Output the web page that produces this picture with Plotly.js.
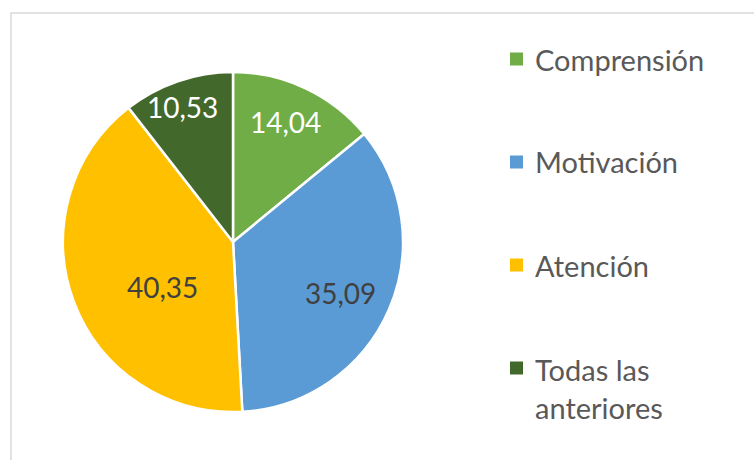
<!DOCTYPE html>
<html>
<head>
<meta charset="utf-8">
<script src="https://cdn.plot.ly/plotly-3.0.1.min.js"></script>
<style>
  html, body { margin: 0; padding: 0; background: #ffffff; }
  #chart { width: 754px; height: 460px; }
</style>
</head>
<body>
<div id="chart"></div>
<script>
// ---- data ----
const categories = ["Comprensión", "Motivación", "Atención", "Todas las anteriores"];
const legendLabels = ["Comprensión", "Motivación", "Atención", "Todas las<br>anteriores"];
const values = [14.04, 35.09, 40.35, 10.53];
const sliceColors = ["#70AD47", "#5B9BD5", "#FFC000", "#43682B"];
const labelColors = ["#FFFFFF", "#404040", "#404040", "#FFFFFF"];

// ---- layout constants (Excel "best fit" label placement) ----
const W = 754, H = 460;
const cx = 233, cy = 242, R = 170;
const FONT = "Lato, 'Open Sans', sans-serif";
const labelRadius = [0.77, 0.70, 0.49, 0.85];     // fraction of radius
const labelAngleShift = [-1.5, 1.7, -12, -1.5];   // degrees off slice middle

const fmt = v => v.toFixed(2).replace(".", ",");

const trace = {
  type: "pie",
  labels: categories,
  values: values,
  sort: false,
  direction: "clockwise",
  rotation: 0,
  marker: { colors: sliceColors, line: { color: "#FFFFFF", width: 2.5 } },
  textinfo: "none",
  hoverinfo: "label+value",
  showlegend: false,
  domain: {
    x: [(cx - R) / W, (cx + R) / W],
    y: [(H - cy - R) / H, (H - cy + R) / H]
  }
};

const shapes = [
  { type: "rect", xref: "paper", yref: "paper",
    x0: 11 / W, x1: 1.02, y0: -0.02, y1: 1 - 13 / H,
    line: { color: "#D9D9D9", width: 1.5 }, fillcolor: "rgba(0,0,0,0)", layer: "below" }
];
const annotations = [];

// data labels, placed from the slice angles
const total = values.reduce((a, b) => a + b, 0);
let cum = 0;
values.forEach((v, i) => {
  const mid = (cum + v / 2) / total * 360 + labelAngleShift[i];
  cum += v;
  const a = mid * Math.PI / 180;
  const px = cx + labelRadius[i] * R * Math.sin(a);
  const py = cy - labelRadius[i] * R * Math.cos(a);
  annotations.push({ xref: "paper", yref: "paper", x: px / W, y: 1 - py / H,
    xanchor: "center", yanchor: "middle", showarrow: false, text: fmt(v),
    font: { family: FONT, size: 28, color: labelColors[i] } });
});

// manual legend (Excel-style spacing)
const legX = 510, legTextX = 533, legY0 = 59, legStep = 103, legBox = 13;
categories.forEach((c, i) => {
  const y = legY0 + legStep * i;
  shapes.push({ type: "rect", xref: "paper", yref: "paper",
    x0: legX / W, x1: (legX + legBox) / W,
    y0: 1 - (y + legBox / 2) / H, y1: 1 - (y - legBox / 2) / H,
    fillcolor: sliceColors[i], line: { width: 0 } });
  annotations.push({ xref: "paper", yref: "paper", x: legTextX / W, y: 1 - y / H,
    xanchor: "left", yanchor: i === 3 ? "top" : "middle",
    yshift: i === 3 ? 18 : 0,
    align: "left", showarrow: false, text: legendLabels[i],
    font: { family: FONT, size: 29, color: "#595959" } });
});

const layout = {
  width: W, height: H,
  margin: { l: 0, r: 0, t: 0, b: 0 },
  paper_bgcolor: "#FFFFFF",
  plot_bgcolor: "#FFFFFF",
  showlegend: false,
  shapes: shapes,
  annotations: annotations
};

Plotly.newPlot("chart", [trace], layout, { displayModeBar: false, staticPlot: true });
</script>
</body>
</html>
